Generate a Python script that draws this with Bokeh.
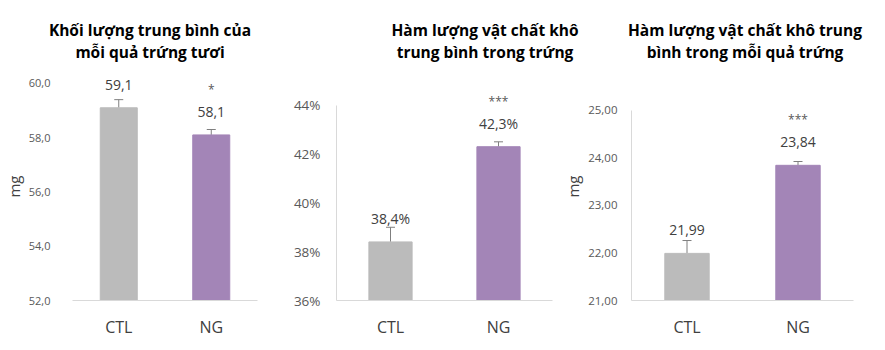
from bokeh.plotting import figure
from bokeh.layouts import row, column
from bokeh.models import (ColumnDataSource, FactorRange, Range1d, FixedTicker,
                          LinearAxis, CategoricalAxis, Whisker, TeeHead,
                          LabelSet, Div)
from bokeh.core.properties import value
from bokeh.embed import file_html
from bokeh.resources import INLINE

# ---- data -------------------------------------------------------------
groups = ["CTL", "NG"]

# fresh egg mass (mg)
mass_mean = [59.1, 58.1]
mass_err = [0.30, 0.20]
mass_sig = ["", "*"]
mass_ticks = [52, 54, 56, 58, 60]

# dry matter content (%)
dm_pct_mean = [38.4, 42.3]
dm_pct_err = [0.6, 0.2]
dm_pct_sig = ["", "***"]
dm_pct_ticks = [36, 38, 40, 42, 44]

# dry matter per egg (mg)
dm_mass_mean = [21.99, 23.84]
dm_mass_err = [0.27, 0.08]
dm_mass_sig = ["", "***"]
dm_mass_ticks = [21, 22, 23, 24, 25]

titles = [
    ["Khối lượng trung bình của", "mỗi quả trứng tươi"],
    ["Hàm lượng vật chất khô", "trung bình trong trứng"],
    ["Hàm lượng vật chất khô trung", "bình trong mỗi quả trứng"],
]

bar_colors = ["#BBBBBB", "#A385B7"]
FONT = "Open Sans"
DARK = "#404040"
MID = "#595959"
LIGHT = "#D9D9D9"

HEAD_H = 70          # height of the title strip
PLOT_H = 350 - HEAD_H


def comma(v, nd):
    return f"{v:.{nd}f}".replace(".", ",")


def panel(width, border_left, border_right, border_bottom, y_end,
          means, errs, sig, ticks, tick_fmt, val_fmt,
          ylabel, tick_size, tick_standoff, show_yline):
    p = figure(width=width, height=PLOT_H, output_backend="svg",
               toolbar_location=None, x_range=FactorRange(*groups, range_padding=0),
               y_range=Range1d(ticks[0], y_end),
               min_border_left=border_left, min_border_right=border_right,
               min_border_top=2, min_border_bottom=border_bottom,
               x_axis_location=None, y_axis_location=None)
    p.outline_line_color = None
    p.xgrid.grid_line_color = None
    p.ygrid.grid_line_color = None
    p.background_fill_color = "white"
    p.border_fill_color = "white"

    src = ColumnDataSource(dict(
        g=groups, m=means, color=bar_colors,
        lo=means, hi=[m + e for m, e in zip(means, errs)],
        lab=[val_fmt(m) for m in means], sig=sig))

    p.vbar(x="g", top="m", bottom=ticks[0], width=0.4, color="color", source=src)

    p.add_layout(Whisker(source=src, base="g", upper="hi", lower="lo",
                         line_color="#7F7F7F", line_width=1,
                         upper_head=TeeHead(size=9, line_color="#7F7F7F", line_width=1),
                         lower_head=None))

    p.add_layout(LabelSet(x="g", y="m", text="lab", source=src, y_offset=18,
                          text_align="center", text_baseline="alphabetic",
                          text_font=value(FONT), text_font_size=value("14px"),
                          text_color=DARK))
    p.add_layout(LabelSet(x="g", y="m", text="sig", source=src, y_offset=41,
                          text_align="center", text_baseline="alphabetic",
                          text_font=value(FONT), text_font_size=value("12px"),
                          text_color=MID))

    # y axis, its line limited to the ticked span
    yax = LinearAxis(ticker=FixedTicker(ticks=ticks), bounds=(ticks[0], ticks[-1]),
                     major_label_overrides={t: tick_fmt(t) for t in ticks})
    yax.major_tick_line_color = None
    yax.minor_tick_line_color = None
    yax.axis_line_color = LIGHT if show_yline else None
    yax.major_label_text_font = FONT
    yax.major_label_text_font_size = tick_size
    yax.major_label_text_color = MID
    yax.major_label_standoff = tick_standoff
    if ylabel:
        yax.axis_label = ylabel
        yax.axis_label_text_font = FONT
        yax.axis_label_text_font_style = "normal"
        yax.axis_label_text_font_size = "15px"
        yax.axis_label_text_color = DARK
        yax.axis_label_standoff = 2
    p.add_layout(yax, "left")

    # category axis with a light base line
    cax = CategoricalAxis()
    cax.axis_line_color = LIGHT
    cax.major_tick_line_color = None
    cax.major_label_text_font = FONT
    cax.major_label_text_font_size = "16px"
    cax.major_label_text_color = DARK
    cax.major_label_standoff = 9
    p.add_layout(cax, "below")
    return p


p1 = panel(290, 71, 33, 50, 60.4, mass_mean, mass_err, mass_sig, mass_ticks,
           lambda t: comma(t, 1), lambda v: comma(v, 1),
           "mg", "11px", 16, False)
p2 = panel(270, 45, 8, 48, 45.34, dm_pct_mean, dm_pct_err, dm_pct_sig, dm_pct_ticks,
           lambda t: f"{t}%", lambda v: comma(v, 1) + "%",
           None, "13.5px", 10, True)
p3 = panel(325, 70, 32, 48, 25.79, dm_mass_mean, dm_mass_err, dm_mass_sig, dm_mass_ticks,
           lambda t: comma(t, 2), lambda v: comma(v, 2),
           "mg", "11.5px", 8, True)

# chart titles, each centred over its panel
title_centers = [150, 485, 745]
blocks = "".join(
    f'<div style="position:absolute;left:{c - 160}px;top:19px;width:320px;'
    f'text-align:center;line-height:22px;">{"<br>".join(lines)}</div>'
    for c, lines in zip(title_centers, titles))
head = Div(text=(f'<div style="position:relative;width:885px;height:{HEAD_H}px;'
                 f'font-family:\'{FONT}\';font-weight:bold;font-size:15.5px;'
                 f'color:#000;">{blocks}</div>'),
           width=885, height=HEAD_H, margin=0)

layout = column(head, row(p1, p2, p3, spacing=0), spacing=0)
open("out.html", "w").write(file_html(layout, INLINE))
